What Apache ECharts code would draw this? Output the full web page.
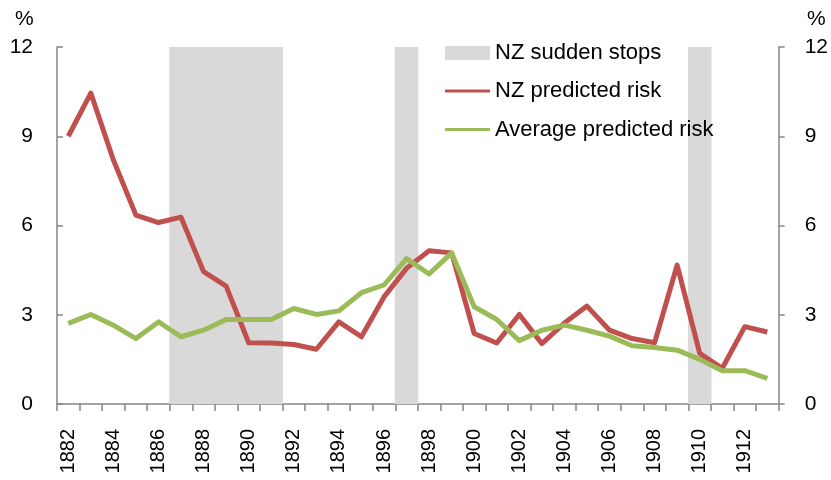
<!DOCTYPE html>
<html>
<head>
<meta charset="utf-8">
<script src="https://cdn.jsdelivr.net/npm/echarts@6/dist/echarts.min.js"></script>
<style>
html,body{margin:0;padding:0;background:#fff;}
#chart{width:831px;height:480px;}
</style>
</head>
<body>
<div id="chart"></div>
<script>
const years = ['1882','1883','1884','1885','1886','1887','1888','1889','1890','1891','1892','1893','1894','1895','1896','1897','1898','1899','1900','1901','1902','1903','1904','1905','1906','1907','1908','1909','1910','1911','1912','1913'];
const nzRisk = [9.0,10.45,8.2,6.35,6.1,6.28,4.45,3.96,2.06,2.05,2.0,1.84,2.76,2.26,3.6,4.56,5.15,5.08,2.37,2.05,3.01,2.03,2.72,3.29,2.48,2.2,2.06,4.67,1.7,1.2,2.6,2.42];
const avgRisk = [2.71,3.01,2.65,2.2,2.76,2.26,2.48,2.84,2.84,2.84,3.21,3.01,3.13,3.74,4.0,4.89,4.37,5.08,3.27,2.84,2.13,2.48,2.65,2.48,2.28,1.96,1.9,1.81,1.5,1.12,1.12,0.86];
const stopYears = ['1887','1888','1889','1890','1891','1897','1910'];
const stopHeight = 12;
const yTicks = [0,3,6,9,12];

const stopData = years.map(y => stopYears.includes(y) ? stopHeight : '-');
const axisGray = '#868686';
const font = 'Liberation Sans';
const legendText = {fontFamily:font, fontSize:22, color:'#000'};

const chart = echarts.init(document.getElementById('chart'), null, {renderer:'canvas'});
chart.setOption({
  animation:false,
  backgroundColor:'#fff',
  grid:{left:57,right:50,top:47,bottom:76,containLabel:false},
  legend:[
    {orient:'vertical', left:445, top:42, padding:0,
     itemWidth:45, itemHeight:14, textStyle:legendText,
     data:[{name:'NZ sudden stops', icon:'rect'}]},
    {orient:'vertical', left:445, top:80, padding:0,
     itemWidth:45, itemHeight:3, itemGap:16.5, textStyle:legendText,
     data:[{name:'NZ predicted risk', icon:'rect'},{name:'Average predicted risk', icon:'rect'}]}
  ],
  graphic:[
    {type:'text', left:15, top:9, style:{text:'%', fontFamily:font, fontSize:21, fill:'#000'}},
    {type:'text', left:807, top:9, style:{text:'%', fontFamily:font, fontSize:21, fill:'#000'}}
  ],
  xAxis:{
    type:'category', data:years, boundaryGap:true,
    axisLine:{lineStyle:{color:axisGray, width:1.5}},
    axisTick:{show:true, interval:0, length:7, lineStyle:{color:axisGray, width:1.5}},
    axisLabel:{interval:1, rotate:90, margin:25, fontFamily:font, fontSize:20, color:'#000'},
    splitLine:{show:false}
  },
  yAxis:[
    {type:'value', min:yTicks[0], max:yTicks[yTicks.length-1], interval:3, position:'left',
     axisLine:{show:true, lineStyle:{color:axisGray, width:1.5}},
     axisTick:{show:true, inside:true, length:6, lineStyle:{color:axisGray, width:1.5}},
     axisLabel:{margin:24, fontFamily:font, fontSize:21, color:'#000'},
     splitLine:{show:false}},
    {type:'value', min:yTicks[0], max:yTicks[yTicks.length-1], interval:3, position:'right',
     axisLine:{show:true, lineStyle:{color:axisGray, width:1.5}},
     axisTick:{show:true, inside:false, length:6, lineStyle:{color:axisGray, width:1.5}},
     axisLabel:{margin:26, fontFamily:font, fontSize:21, color:'#000'},
     splitLine:{show:false}}
  ],
  series:[
    {name:'NZ sudden stops', type:'bar', data:stopData, yAxisIndex:0,
     barWidth:23.6, barGap:'-100%',
     itemStyle:{color:'#D9D9D9'}, z:1, silent:true},
    {name:'NZ predicted risk', type:'line', data:nzRisk, yAxisIndex:0,
     symbol:'none', lineStyle:{color:'#C0504D', width:5, join:'round'}, itemStyle:{color:'#C0504D'}, z:3},
    {name:'Average predicted risk', type:'line', data:avgRisk, yAxisIndex:0,
     symbol:'none', lineStyle:{color:'#9BBB59', width:5, join:'round'}, itemStyle:{color:'#9BBB59'}, z:4}
  ]
});
</script>
</body>
</html>
